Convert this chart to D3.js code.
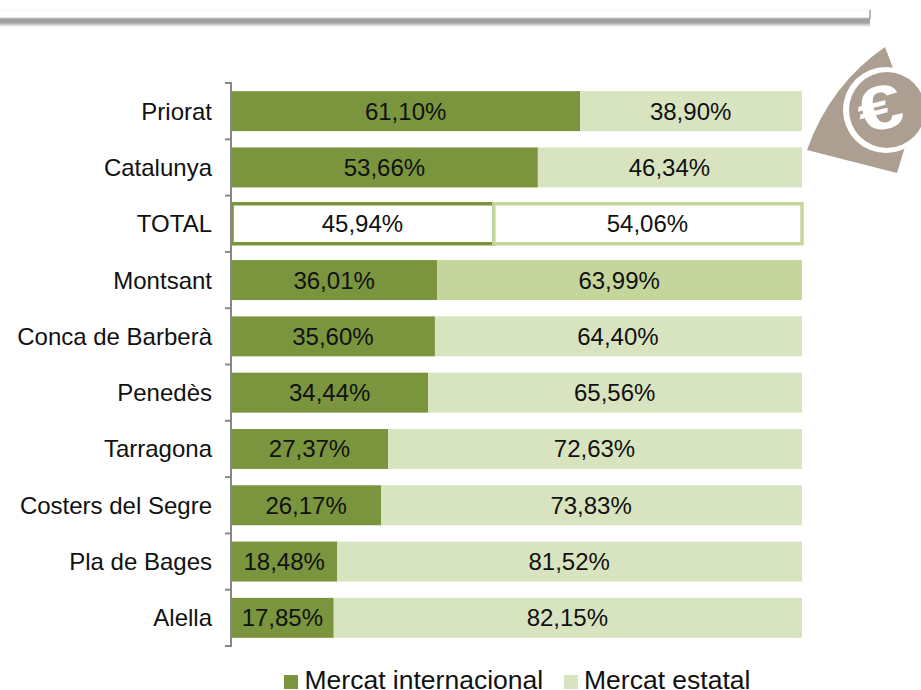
<!DOCTYPE html>
<html><head><meta charset="utf-8">
<script src="https://cdn.jsdelivr.net/npm/d3@7"></script>
<style>html,body{margin:0;background:#fff}svg{display:block}text{font-family:"Liberation Sans",Arial,sans-serif;fill:#111}</style>
</head><body><svg id="c" width="921" height="690"></svg>
<script>
const categories=["Priorat","Catalunya","TOTAL","Montsant","Conca de Barberà","Penedès","Tarragona","Costers del Segre","Pla de Bages","Alella"];
const internacional=[61.10,53.66,45.94,36.01,35.60,34.44,27.37,26.17,18.48,17.85];
const estatal=[38.90,46.34,54.06,63.99,64.40,65.56,72.63,73.83,81.52,82.15];
const seriesNames=["Mercat internacional","Mercat estatal"];
const fmt=v=>v.toFixed(2).replace(".",",")+"%";
const svg=d3.select("#c");
const defs=svg.append("defs");
const g=defs.append("linearGradient").attr("id","sh").attr("x1",0).attr("x2",0).attr("y1",0).attr("y2",1);
[[0,"#c8c8c8"],[.3,"#9c9c9c"],[.6,"#a8a8a8"],[1,"#ffffff"]].forEach(s=>g.append("stop").attr("offset",s[0]).attr("stop-color",s[1]));
// banner
svg.append("rect").attr("x",0).attr("y",17).attr("width",870).attr("height",10).attr("fill","url(#sh)");
svg.append("rect").attr("x",0).attr("y",10).attr("width",870).attr("height",7.5).attr("fill","#fff").attr("stroke","#f0f0f0").attr("stroke-width",.6);
svg.append("line").attr("x1",870).attr("x2",870).attr("y1",10).attr("y2",19).attr("stroke","#777");
// icon
const ic=svg.append("g");
ic.append("path").attr("d","M885,47 Q830,85 807,150 L897,173 L904,150 L921,110 L893,68 Z").attr("fill","#ac9f91");
ic.append("circle").attr("cx",886).attr("cy",110).attr("r",43).attr("fill","#fff");
ic.append("circle").attr("cx",887).attr("cy",110).attr("r",38).attr("fill","#ac9f91");
ic.append("text").attr("text-anchor","middle").attr("dominant-baseline","middle").attr("font-size",62).attr("font-weight","bold").style("fill","#fff").attr("transform","translate(881 113) rotate(-14) scale(1.3 1)").text("€");
// chart
const x=d3.scaleLinear().domain([0,100]).range([232,802]);
const y=d3.scaleBand().domain(categories).range([83,646]).paddingInner(0.29).paddingOuter(0.145);
const dark="#7a953d",light="#d8e4bf",mid="#c4d69b";
const row=svg.selectAll("g.row").data(categories).join("g").attr("class","row");
row.each(function(c,i){
  const r=d3.select(this),a=internacional[i],b=estatal[i],T=c==="TOTAL";
  const bh=y.bandwidth();
  const lc=c==="Montsant"?mid:light;
  if(T){
    r.append("rect").attr("x",x(0)).attr("y",y(c)).attr("width",x(a)-x(0)).attr("height",bh).attr("fill","#fff").attr("stroke",dark).attr("stroke-width",3.5);
    r.append("rect").attr("x",x(a)).attr("y",y(c)).attr("width",x(100)-x(a)).attr("height",bh).attr("fill","#fff").attr("stroke",mid).attr("stroke-width",3.5);
  }else{
    r.append("rect").attr("x",x(0)).attr("y",y(c)).attr("width",x(a)-x(0)).attr("height",bh).attr("fill",dark);
    r.append("rect").attr("x",x(a)).attr("y",y(c)).attr("width",x(100)-x(a)).attr("height",bh).attr("fill",lc);
  }
  [[0,a],[a,b]].forEach(([s,v])=>r.append("text").attr("x",x(s+v/2)-0.5).attr("y",y(c)+bh/2+8.5).attr("text-anchor","middle").attr("font-size",24).text(fmt(v)));
  r.append("text").attr("x",212).attr("y",y(c)+bh/2+8.5).attr("text-anchor","end").attr("font-size",24).text(c);
});
// axis
const ax=svg.append("g").attr("stroke","#868686").attr("stroke-width",2).attr("fill","none");
const step=y.step(), gap=step-y.bandwidth();
const top0=y(categories[0])-gap/2;
ax.append("line").attr("x1",231).attr("x2",231).attr("y1",top0-1).attr("y2",top0+step*categories.length+1);
d3.range(categories.length+1).forEach(i=>{
  const yy=top0+i*step;
  ax.append("line").attr("x1",225).attr("x2",231).attr("y1",yy).attr("y2",yy);
});
// legend
const lg=svg.append("g");
[[284,304.5,dark],[564,584,light]].forEach((p,i)=>{
  lg.append("rect").attr("x",p[0]).attr("y",675).attr("width",14).attr("height",14).attr("fill",p[2]);
  lg.append("text").attr("x",p[1]).attr("y",689).attr("font-size",26.5).text(seriesNames[i]);
});
</script></body></html>
